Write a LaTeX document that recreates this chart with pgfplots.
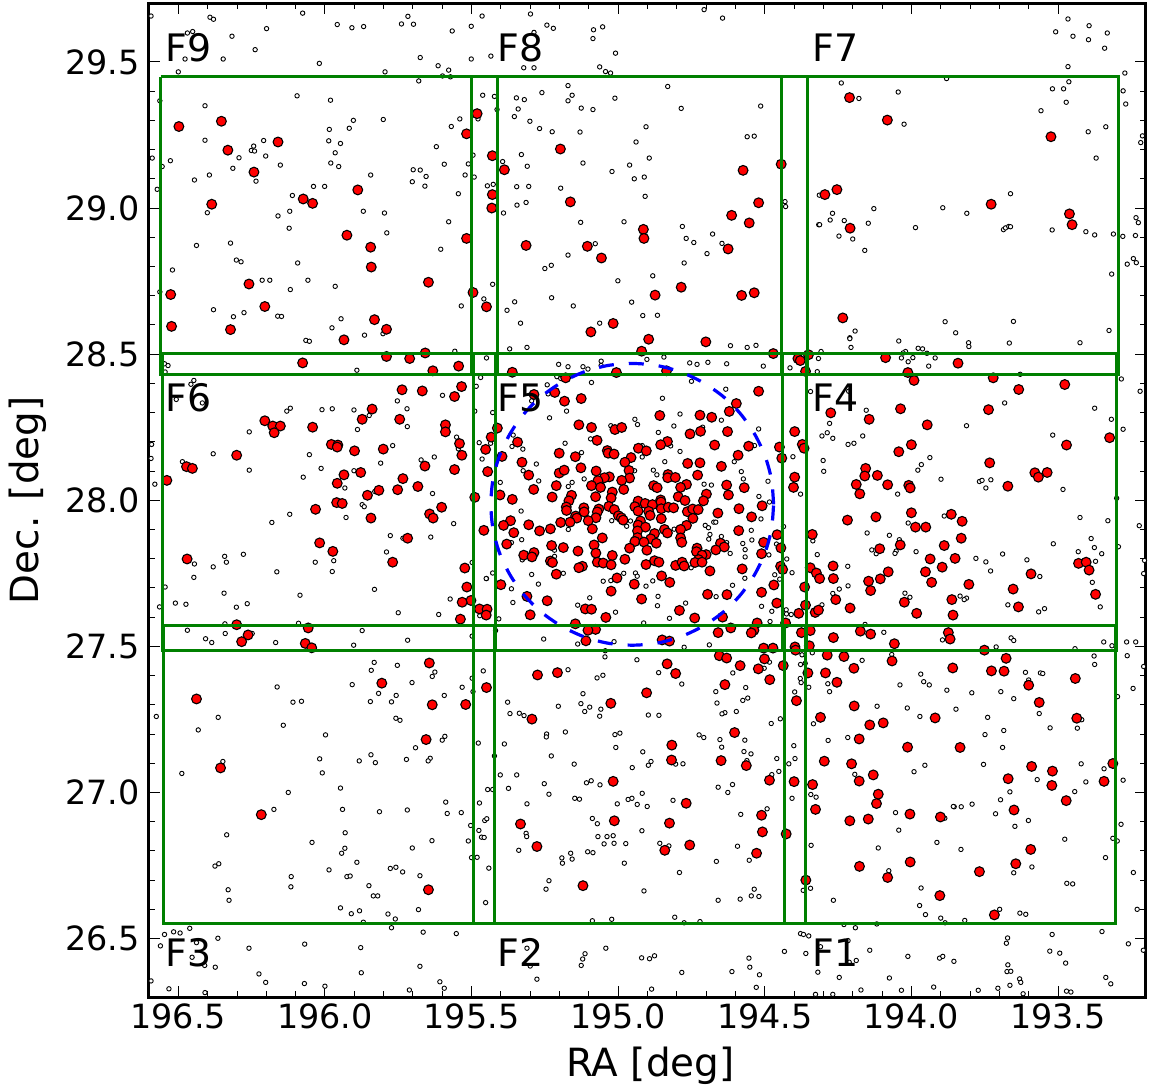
\documentclass[border=0pt]{standalone}
\usepackage{fontspec}
\setmainfont{DejaVu Sans}
\usepackage{pgfplots}
\pgfplotsset{compat=1.18}
\definecolor{fieldgreen}{RGB}{0,128,0}
\begin{document}
\begin{tikzpicture}
\useasboundingbox (-149bp,-93bp) rectangle (1008bp,997bp);
\begin{axis}[
  scale only axis, width=997bp, height=993.5bp,
  x dir=reverse, xmin=193.2, xmax=196.6, ymin=26.3, ymax=29.7,
  xtick={193.5,194,194.5,195,195.5,196,196.5},
  ytick={26.5,27,27.5,28,28.5,29,29.5},
  minor x tick num=4, minor y tick num=4,
  tick align=inside, tick pos=both,
  major tick length=11bp, minor tick length=6bp,
  tick style={black,line width=0.9bp},
  axis line style={line width=3bp,black},
  ticklabel style={font=\fontsize{33.5}{38}\selectfont},
  xticklabel style={/pgf/number format/fixed,/pgf/number format/fixed zerofill,/pgf/number format/precision=1,/pgf/number format/assume math mode=true,yshift=-3bp},
  yticklabel style={/pgf/number format/fixed,/pgf/number format/fixed zerofill,/pgf/number format/precision=1,/pgf/number format/assume math mode=true,xshift=-6bp},
  xlabel={RA [deg]}, ylabel={Dec. [deg]},
  xlabel style={font=\fontsize{39}{44}\selectfont,at={(axis description cs:0.503,-0.050)},anchor=north,inner sep=0pt},
  ylabel style={font=\fontsize{39}{44}\selectfont,at={(axis description cs:-0.1023,0.5)},anchor=south,inner sep=0pt},
  xtick pos=both, ytick pos=both,
  xticklabel pos=bottom, yticklabel pos=left,
  clip mode=individual,
]
% faint members
\addplot[only marks, mark=*, mark size=2.2bp, mark options={fill=white,draw=black,line width=0.9bp}] coordinates {
(196.593,29.657)(196.392,29.653)(196.380,29.646)(196.076,29.667)(196.469,29.599)(196.451,29.604)(196.317,29.588)(196.199,29.614)(195.958,29.628)(195.908,29.617)(195.868,29.621)(195.739,29.630)(195.717,29.656)(195.698,29.629)(195.566,29.606)(195.501,29.622)(195.464,29.657)(196.238,29.542)(196.477,29.510)(196.347,29.510)(196.019,29.495)(195.675,29.515)(195.501,29.510)(195.614,29.487)(195.578,29.472)(196.500,29.466)(195.795,29.466)(195.680,29.435)(195.599,29.452)(195.572,29.449)(196.563,29.367)(196.095,29.384)(195.981,29.369)(195.462,29.386)(196.409,29.350)(195.801,29.303)(195.903,29.300)(195.917,29.273)(195.985,29.269)(195.569,29.279)(195.540,29.305)(195.478,29.305)(196.409,29.232)(196.209,29.231)(195.987,29.230)(195.947,29.221)(196.243,29.212)(196.251,29.197)(196.240,29.195)(195.620,29.210)(195.965,29.189)(196.589,29.171)(196.293,29.172)(196.202,29.178)(196.527,29.162)(195.495,29.181)(196.555,29.142)(196.152,29.147)(195.980,29.154)(195.953,29.142)(195.593,29.150)(195.511,29.151)(196.314,29.136)(195.699,29.131)(195.675,29.130)(196.394,29.113)(195.844,29.113)(195.655,29.108)(195.522,29.113)(195.491,29.106)(196.445,29.096)(196.235,29.092)(195.702,29.090)(196.572,29.064)(196.039,29.074)(196.001,29.074)(195.659,29.075)(196.111,29.043)(195.545,29.049)(196.120,28.989)(195.869,28.989)(196.401,28.984)(195.797,28.983)(196.160,28.973)(195.578,28.953)(196.122,28.931)(195.789,28.915)(196.322,28.880)(196.438,28.872)(195.605,28.859)(196.302,28.822)(196.286,28.816)(196.093,28.812)(196.520,28.788)(196.214,28.753)(196.188,28.753)(196.058,28.753)(195.965,28.732)(196.563,28.713)(196.118,28.721)(196.380,28.652)(196.276,28.642)(196.312,28.628)(196.161,28.630)(196.148,28.629)(195.535,28.665)(195.945,28.621)(195.976,28.590)(195.865,28.565)(195.802,28.570)
(195.299,29.664)(194.707,29.679)(194.644,29.650)(195.243,29.626)(195.221,29.615)(195.084,29.610)(195.053,29.620)(195.287,29.601)(195.086,29.580)(195.009,29.530)(195.434,29.520)(195.322,29.480)(195.287,29.480)(195.063,29.483)(195.043,29.467)(195.026,29.462)(195.171,29.419)(194.831,29.416)(195.260,29.395)(195.157,29.386)(195.422,29.382)(195.347,29.377)(195.320,29.371)(195.171,29.367)(195.011,29.376)(195.413,29.337)(195.341,29.339)(195.126,29.342)(195.086,29.337)(194.785,29.341)(194.514,29.349)(195.354,29.313)(195.301,29.297)(195.268,29.272)(195.225,29.261)(195.130,29.260)(194.905,29.278)(194.560,29.244)(194.536,29.246)(194.939,29.226)(195.330,29.183)(195.394,29.159)(195.310,29.143)(194.894,29.171)(195.120,29.154)(194.961,29.147)(195.021,29.125)(194.945,29.100)(194.911,29.106)(195.446,29.076)(195.426,29.081)(195.346,29.073)(195.305,29.074)(195.196,29.068)(194.908,29.040)(194.431,29.022)(194.429,29.005)(194.314,29.044)(195.314,29.019)(195.345,29.010)(195.391,28.983)(195.128,28.951)(194.980,28.953)(194.781,28.937)(194.316,28.943)(194.678,28.911)(194.768,28.896)(194.742,28.882)(194.646,28.879)(195.078,28.878)(195.171,28.839)(194.697,28.844)(194.775,28.812)(195.228,28.804)(195.250,28.793)(194.882,28.768)(195.001,28.751)(195.428,28.739)(195.458,28.689)(195.353,28.679)(195.227,28.693)(194.954,28.678)(195.153,28.665)(195.379,28.650)(194.916,28.632)(194.866,28.633)(195.333,28.606)(195.063,28.606)
(193.466,29.647)(193.394,29.624)(193.508,29.603)(193.332,29.599)(193.449,29.588)(193.396,29.576)(193.341,29.547)(193.466,29.484)(193.272,29.462)(194.239,29.428)(193.880,29.443)(193.463,29.432)(194.045,29.397)(193.519,29.408)(193.481,29.408)(193.278,29.401)(194.179,29.375)(193.472,29.362)(193.269,29.356)(193.558,29.333)(194.025,29.287)(193.337,29.278)(193.397,29.261)(193.212,29.247)(193.218,29.224)(193.370,29.171)(193.662,29.049)(193.893,29.001)(194.128,28.998)(194.269,28.982)(193.811,28.982)(194.277,28.959)(194.229,28.957)(194.313,28.943)(194.147,28.948)(193.234,28.967)(193.226,28.950)(193.986,28.933)(193.686,28.926)(193.679,28.932)(193.668,28.937)(193.662,28.936)(193.520,28.925)(193.405,28.919)(193.375,28.908)(193.311,28.911)(193.279,28.903)(193.236,28.906)(194.247,28.904)(194.200,28.894)(194.159,28.855)(193.243,28.827)(193.233,28.813)(193.264,28.808)(193.317,28.774)(193.885,28.611)(193.652,28.612)(194.192,28.579)(193.849,28.573)(193.326,28.581)(194.210,28.556)
(196.065,28.547)(196.053,28.544)(195.557,28.510)(195.484,28.390)(195.469,28.420)(195.489,28.305)(195.474,28.197)(195.464,28.141)(195.472,27.605)(195.449,27.732)
(196.547,28.467)(196.535,28.461)(196.545,28.439)(195.891,28.445)(196.447,28.410)(196.457,28.397)(195.599,28.359)(196.507,28.345)(196.418,28.333)(195.753,28.340)(196.118,28.315)(196.130,28.305)(196.010,28.310)(195.975,28.313)(195.901,28.309)(195.720,28.313)(195.849,28.290)(195.719,28.252)(195.889,28.242)(196.258,28.234)(195.551,28.216)(196.591,28.191)(195.769,28.187)(195.545,28.176)(196.381,28.159)(196.053,28.156)(195.627,28.148)(196.593,28.143)(195.672,28.138)(196.486,28.132)(195.810,28.127)(196.013,28.109)(196.258,28.103)(195.901,28.101)(196.074,28.079)(196.580,28.055)(195.932,28.042)(195.686,28.041)(195.830,28.030)(195.633,28.023)(195.873,27.985)(195.866,27.978)(196.120,27.952)(195.928,27.941)(196.181,27.924)(195.561,27.920)(195.777,27.879)(195.734,27.870)(195.639,27.874)(196.278,27.815)(196.342,27.808)(195.790,27.823)(196.336,27.788)(196.445,27.782)(196.381,27.772)(196.033,27.788)(195.970,27.793)(195.498,27.787)(196.164,27.755)(195.975,27.756)(196.447,27.736)(196.545,27.703)(195.831,27.695)(196.344,27.682)(196.085,27.675)(195.573,27.662)(196.510,27.648)(196.474,27.644)(196.265,27.646)(196.564,27.635)(196.302,27.634)(195.750,27.615)(195.612,27.609)(196.341,27.577)(196.090,27.579)(196.469,27.555)(195.873,27.554)(196.340,27.544)(196.248,27.544)(196.407,27.526)(196.386,27.513)(196.168,27.513)(195.718,27.521)(195.902,27.504)(195.498,27.535)
(195.370,28.518)(195.311,28.523)(194.617,28.529)(194.560,28.523)(194.530,28.530)(195.449,28.487)(194.844,28.490)(194.902,28.482)(195.058,28.476)(195.058,28.461)(195.203,28.465)(195.171,28.457)(195.120,28.457)(195.103,28.449)(194.756,28.470)(194.731,28.465)(194.694,28.472)(194.630,28.467)(194.505,28.459)(194.414,28.453)(195.209,28.423)(195.196,28.417)(195.091,28.403)(194.750,28.407)(195.242,28.395)(194.633,28.380)(194.344,28.372)(195.239,28.364)(194.849,28.349)(195.295,28.340)(195.176,28.305)(195.428,28.300)(195.234,28.282)(194.789,28.295)(194.943,28.277)(194.648,28.274)(194.934,28.259)(195.025,28.255)(194.810,28.254)(194.712,28.250)(194.521,28.244)(194.863,28.232)(195.358,28.223)(195.094,28.210)(195.435,28.195)(195.181,28.195)(195.362,28.184)(195.325,28.175)(194.535,28.187)(194.918,28.187)(194.821,28.186)(195.125,28.163)(194.789,28.167)(194.918,28.148)(194.404,28.149)(194.841,28.132)(194.604,28.132)(195.279,28.124)(195.324,28.101)(194.880,28.103)(194.944,28.101)(194.580,28.098)(194.868,28.087)(194.573,28.073)(195.271,28.066)(195.116,28.073)(195.402,28.061)(195.157,28.061)(195.170,28.047)(194.489,28.065)(194.707,28.055)(194.682,28.052)(194.378,28.021)(194.520,28.013)(194.484,27.994)(195.331,27.963)(194.513,27.936)(195.022,27.930)(194.958,27.929)(194.674,27.925)(194.667,27.925)(194.703,27.914)(194.692,27.906)(194.971,27.911)(194.809,27.901)(195.170,27.900)(194.436,27.910)(194.546,27.897)(194.687,27.883)(194.648,27.876)(195.329,27.865)(195.364,27.855)(194.691,27.867)(194.544,27.864)(194.336,27.861)(194.575,27.852)(194.460,27.850)(194.630,27.855)(194.567,27.831)(195.217,27.829)(194.618,27.818)(194.486,27.813)(194.321,27.814)(195.217,27.808)(194.567,27.806)(195.327,27.796)(194.425,27.799)(194.751,27.769)(195.187,27.750)(195.428,27.751)(194.981,27.750)(194.941,27.751)(195.295,27.746)(194.935,27.740)(194.466,27.745)(194.407,27.752)(195.450,27.732)(194.568,27.733)(194.449,27.730)(195.051,27.723)(195.025,27.725)(194.882,27.724)(195.272,27.713)(194.905,27.706)(194.610,27.709)(195.364,27.697)(194.666,27.670)(195.097,27.666)(194.864,27.671)(195.359,27.650)(195.138,27.641)(194.770,27.648)(194.866,27.639)(194.511,27.637)(195.009,27.617)(194.476,27.620)(194.427,27.625)(194.426,27.611)(194.410,27.609)(195.407,27.594)(194.825,27.596)(195.418,27.554)(194.913,27.580)(194.482,27.585)(195.254,27.525)(195.014,27.516)(195.138,27.508)(194.775,27.497)(194.689,27.505)(195.044,27.485)(195.045,27.464)(194.936,27.454)(194.373,27.471)(194.338,27.478)
(194.210,28.553)(194.043,28.545)(193.805,28.539)(193.804,28.526)(193.666,28.538)(193.425,28.539)(194.206,28.523)(193.977,28.520)(193.962,28.518)(194.020,28.509)(194.028,28.504)(193.947,28.503)(194.308,28.509)(194.317,28.485)(194.034,28.487)(193.995,28.488)(194.011,28.474)(193.919,28.487)(193.941,28.459)(194.321,28.440)(193.629,28.431)(193.284,28.415)(193.220,28.373)(194.214,28.373)(193.682,28.333)(193.375,28.315)(194.154,28.308)(193.318,28.277)(194.279,28.263)(193.812,28.255)(193.278,28.243)(194.287,28.231)(194.305,28.220)(194.268,28.212)(194.166,28.220)(193.518,28.223)(194.216,28.191)(194.196,28.195)(193.937,28.146)(194.301,28.136)(193.966,28.122)(193.978,28.103)(194.299,28.099)(193.899,28.072)(193.768,28.064)(193.759,28.068)(193.729,28.070)(193.746,28.042)(193.483,28.037)(194.047,28.021)(193.300,28.007)(193.888,27.946)(193.425,27.941)(193.330,27.930)(194.011,27.922)(193.223,27.913)(194.151,27.888)(194.075,27.880)(193.387,27.869)(194.041,27.865)(193.516,27.851)(193.294,27.841)(194.135,27.830)(194.052,27.826)(193.376,27.838)(194.120,27.817)(194.056,27.818)(193.984,27.824)(193.431,27.824)(193.780,27.801)(193.689,27.816)(193.351,27.817)(193.746,27.789)(193.606,27.796)(193.372,27.791)(193.205,27.794)(194.217,27.774)(193.730,27.758)(193.208,27.749)(193.562,27.739)(194.216,27.707)(193.383,27.719)(194.246,27.696)(194.268,27.681)(194.022,27.682)(194.005,27.668)(193.834,27.672)(193.812,27.665)(193.820,27.660)(194.305,27.642)(193.671,27.642)(193.546,27.629)(193.566,27.618)(193.356,27.635)(194.158,27.575)(194.094,27.548)(193.660,27.529)(193.651,27.520)(193.894,27.522)(193.344,27.515)(193.266,27.515)(193.235,27.515)(193.316,27.502)(193.711,27.498)(193.442,27.492)(194.067,27.472)(193.377,27.467)(193.264,27.468)
(195.832,27.445)(195.753,27.435)(195.842,27.418)(195.625,27.412)(195.634,27.397)(195.460,27.416)(195.498,27.391)(195.907,27.369)(195.703,27.376)(196.163,27.361)(195.532,27.360)(195.495,27.345)(195.817,27.339)(195.757,27.332)(195.593,27.332)(196.109,27.309)(196.080,27.312)(195.845,27.311)(195.773,27.310)(196.575,27.260)(196.364,27.257)(195.758,27.254)(195.744,27.247)(196.142,27.230)(196.432,27.214)(195.998,27.197)(195.591,27.192)(195.600,27.179)(195.477,27.169)(195.691,27.153)(195.843,27.129)(195.641,27.117)(196.018,27.115)(195.648,27.108)(196.348,27.106)(195.883,27.108)(195.828,27.102)(195.722,27.113)(196.488,27.065)(196.009,27.067)(195.947,27.015)(196.125,27.000)(195.445,27.010)(195.588,26.967)(195.473,26.964)(196.174,26.942)(195.940,26.942)(195.814,26.934)(195.719,26.940)(195.583,26.928)(195.535,26.931)(195.455,26.904)(195.448,26.910)(195.503,26.887)(195.475,26.870)(196.335,26.855)(195.931,26.862)(195.466,26.847)(195.457,26.846)(196.044,26.829)(195.635,26.835)(195.511,26.834)(195.932,26.809)(195.702,26.810)(195.943,26.792)(195.500,26.777)(195.481,26.778)(196.362,26.756)(196.375,26.748)(195.891,26.761)(195.777,26.740)(195.758,26.744)(195.986,26.735)(195.735,26.728)(195.676,26.715)(195.925,26.712)(195.914,26.714)(196.115,26.712)(196.116,26.677)(195.850,26.681)(196.330,26.667)(195.835,26.646)(195.820,26.646)(196.327,26.631)(195.452,26.623)(195.947,26.605)(195.882,26.595)(195.681,26.599)(195.910,26.585)(195.785,26.584)(195.760,26.567)(195.869,26.556)(196.461,26.535)(195.773,26.537)(196.516,26.523)(196.494,26.519)(196.547,26.514)(195.665,26.522)(195.552,26.517)(196.365,26.501)(196.438,26.486)(196.069,26.481)(196.561,26.475)(195.878,26.469)(196.259,26.467)(196.453,26.436)(196.410,26.408)(196.374,26.402)(195.676,26.405)(196.225,26.379)(195.876,26.383)(196.593,26.355)(196.202,26.350)(196.070,26.346)(195.608,26.352)(196.000,26.337)(196.532,26.328)(195.712,26.324)(195.593,26.330)(196.409,26.315)
(195.171,27.420)(195.052,27.401)(195.072,27.392)(194.862,27.410)(194.609,27.409)(194.502,27.425)(194.484,27.446)(194.378,27.438)(194.362,27.442)(194.379,27.390)(194.376,27.376)(194.783,27.371)(194.350,27.360)(194.565,27.359)(194.667,27.345)(194.398,27.344)(195.120,27.338)(194.558,27.323)(194.575,27.315)(195.377,27.309)(195.127,27.304)(194.663,27.306)(195.204,27.295)(195.097,27.292)(195.059,27.285)(195.114,27.277)(194.597,27.277)(194.636,27.273)(194.646,27.269)(195.369,27.270)(195.337,27.271)(195.321,27.263)(195.063,27.261)(194.897,27.265)(194.861,27.264)(194.447,27.252)(194.478,27.236)(194.334,27.235)(195.180,27.207)(195.244,27.200)(195.245,27.190)(195.011,27.198)(194.994,27.203)(194.724,27.197)(194.708,27.188)(194.653,27.181)(194.568,27.179)(195.388,27.166)(195.008,27.154)(194.647,27.155)(194.401,27.160)(194.916,27.139)(194.571,27.140)(194.547,27.132)(195.228,27.125)(195.422,27.125)(194.459,27.116)(194.397,27.116)(194.888,27.106)(194.897,27.093)(194.561,27.109)(195.150,27.097)(194.804,27.097)(194.779,27.098)(194.418,27.098)(194.952,27.085)(194.452,27.072)(195.402,27.060)(195.346,27.060)(194.476,27.061)(195.092,27.040)(195.108,27.033)(195.252,27.030)(195.062,27.026)(194.610,27.027)(194.659,27.018)(195.374,27.014)(195.428,27.010)(194.626,27.000)(195.236,26.994)(194.918,26.997)(194.343,26.993)(194.325,26.984)(195.148,26.980)(195.132,26.977)(194.966,26.976)(194.953,26.980)(194.407,26.980)(194.813,26.973)(195.311,26.961)(195.003,26.961)(194.935,26.959)(194.901,26.952)(194.492,26.944)(194.582,26.925)(195.088,26.911)(195.071,26.893)(194.919,26.869)(195.314,26.860)(195.312,26.849)(195.069,26.849)(195.038,26.849)(195.017,26.852)(194.858,26.826)(194.827,26.817)(195.048,26.824)(195.014,26.826)(194.974,26.825)(194.593,26.816)(194.342,26.819)(195.339,26.802)(195.104,26.797)(195.086,26.794)(195.162,26.792)(195.192,26.776)(195.157,26.772)(195.190,26.758)(194.665,26.764)(194.553,26.768)(194.979,26.758)(195.441,26.741)(194.791,26.726)(195.236,26.698)(195.246,26.669)(194.536,26.669)(194.912,26.663)(194.344,26.672)(194.369,26.665)(194.546,26.646)(194.520,26.644)(194.659,26.631)(194.584,26.635)(194.807,26.573)(195.022,26.566)(195.088,26.561)(194.721,26.558)(194.775,26.554)(194.378,26.517)(194.368,26.514)(194.350,26.509)(195.311,26.467)(195.042,26.467)(195.113,26.448)(195.121,26.430)(195.126,26.408)(194.433,26.456)(194.920,26.434)(194.893,26.431)(194.876,26.441)(194.360,26.449)(194.554,26.433)(195.300,26.406)(194.551,26.402)(194.612,26.387)(194.783,26.384)(194.518,26.376)(194.319,26.385)(195.277,26.361)(194.529,26.333)(194.886,26.327)(194.327,26.309)
(194.168,27.452)(193.375,27.438)(193.968,27.405)(193.611,27.411)(193.560,27.409)(193.552,27.407)(193.208,27.431)(193.958,27.379)(193.939,27.368)(194.039,27.368)(194.285,27.372)(193.600,27.385)(194.279,27.345)(193.879,27.350)(193.794,27.341)(193.695,27.345)(193.244,27.356)(193.651,27.321)(193.297,27.328)(194.117,27.295)(194.014,27.289)(193.848,27.285)(193.564,27.270)(193.971,27.260)(193.740,27.257)(193.419,27.249)(193.527,27.221)(193.434,27.220)(193.685,27.212)(193.749,27.198)(194.217,27.188)(194.284,27.178)(193.689,27.154)(193.954,27.093)(193.754,27.096)(193.421,27.098)(193.343,27.081)(193.991,27.071)(194.193,27.062)(193.571,27.044)(193.405,27.036)(193.278,27.042)(193.443,27.003)(193.664,27.002)(193.696,26.975)(193.793,26.960)(193.854,26.951)(193.857,26.952)(193.830,26.951)(194.054,26.931)(193.713,26.927)(193.886,26.912)(193.601,26.904)(193.285,26.891)(193.647,26.884)(194.043,26.871)(193.477,26.840)(193.313,26.843)(193.298,26.834)(193.913,26.829)(193.831,26.805)(194.113,26.810)(193.338,26.777)(193.589,26.745)(194.077,26.732)(193.651,26.725)(193.243,26.726)(193.470,26.689)(193.450,26.687)(193.967,26.673)(194.266,26.631)(193.972,26.613)(193.699,26.600)(193.952,26.582)(193.630,26.587)(193.610,26.583)(193.230,26.600)(193.900,26.570)(193.818,26.562)(193.885,26.554)(194.230,26.548)(194.191,26.537)(194.118,26.550)(193.350,26.524)(193.520,26.514)(193.672,26.502)(193.676,26.484)(194.216,26.493)(194.310,26.472)(193.260,26.482)(194.142,26.460)(193.528,26.457)(193.494,26.450)(193.209,26.460)(194.012,26.439)(193.904,26.433)(193.893,26.439)(194.188,26.425)(194.212,26.419)(193.855,26.422)(193.474,26.416)(193.671,26.410)(193.674,26.387)(193.661,26.388)(194.246,26.367)(194.075,26.365)(193.631,26.362)(193.627,26.350)(193.337,26.367)(193.320,26.345)(193.664,26.340)(193.924,26.334)(193.705,26.330)(194.172,26.324)(194.034,26.323)(193.772,26.323)(193.471,26.320)(193.456,26.317)(194.268,26.309)(193.619,26.311)
};
% bright members
\addplot[only marks, mark=*, mark size=4.9bp, mark options={fill=red,draw=black,line width=1.1bp}] coordinates {
(196.498,29.279)(196.353,29.297)(196.160,29.226)(196.331,29.198)(196.242,29.123)(195.888,29.062)(196.074,29.031)(196.042,29.016)(196.386,29.013)(195.925,28.907)(195.844,28.866)(195.842,28.798)(195.517,29.254)(195.481,29.323)(195.517,28.896)(195.647,28.746)(196.259,28.740)(195.495,28.711)(196.526,28.704)(196.205,28.663)(196.523,28.595)(196.322,28.584)(195.831,28.618)(195.790,28.585)(195.935,28.549)
(195.429,29.179)(195.388,29.131)(195.429,29.046)(195.431,29.000)(195.197,29.202)(195.163,29.021)(194.574,29.129)(194.444,29.150)(194.521,29.018)(194.613,28.975)(194.553,28.949)(194.914,28.927)(194.912,28.896)(194.625,28.860)(195.314,28.872)(195.105,28.869)(195.057,28.829)(194.785,28.729)(194.874,28.702)(194.579,28.701)(194.536,28.710)(195.449,28.662)(195.017,28.605)(195.093,28.576)(194.896,28.551)(194.701,28.542)
(194.211,29.378)(194.082,29.301)(193.524,29.244)(194.254,29.063)(194.295,29.046)(193.728,29.013)(193.461,28.980)(193.452,28.943)(194.209,28.931)(194.234,28.624)
(196.076,28.470)(195.790,28.492)(195.711,28.485)(195.658,28.504)(195.632,28.443)(195.544,28.459)(195.534,28.389)(195.558,28.355)(195.737,28.378)(195.668,28.374)(195.839,28.312)(195.873,28.277)(195.745,28.277)(196.205,28.272)(196.178,28.254)(196.152,28.254)(196.173,28.231)(196.042,28.250)(195.589,28.258)(195.589,28.234)(195.978,28.191)(195.956,28.189)(195.958,28.182)(195.899,28.169)(195.801,28.175)(195.541,28.194)(195.533,28.154)(196.301,28.154)(196.472,28.115)(196.452,28.109)(195.659,28.117)(195.558,28.105)(195.878,28.095)(195.935,28.087)(196.539,28.068)(195.734,28.074)(195.958,28.058)(195.683,28.047)(195.816,28.034)(195.752,28.036)(195.855,28.017)(195.489,28.010)(195.960,27.992)(195.941,27.989)(196.032,27.969)(195.602,27.976)(195.643,27.953)(195.631,27.939)(195.843,27.939)(195.718,27.870)(196.018,27.854)(195.973,27.825)(196.470,27.799)(195.769,27.788)(195.523,27.768)(195.516,27.703)(195.502,27.657)(195.532,27.651)(195.473,27.628)(195.447,27.627)(195.450,27.607)(195.538,27.593)(196.301,27.574)(196.057,27.563)(196.262,27.539)(196.284,27.516)(196.067,27.510)(196.045,27.495)
(195.361,28.438)(195.006,28.437)(194.835,28.443)(194.920,28.510)(194.471,28.502)(194.387,28.485)(194.379,28.478)(194.351,28.498)(194.361,28.441)(195.179,28.419)(195.216,28.369)(195.287,28.362)(195.183,28.339)(195.126,28.348)(194.521,28.373)(194.597,28.331)(194.621,28.304)(194.858,28.290)(194.721,28.291)(194.681,28.284)(195.134,28.258)(195.091,28.249)(195.011,28.242)(194.988,28.249)(195.412,28.247)(194.755,28.227)(194.719,28.236)(194.627,28.235)(194.398,28.235)(195.433,28.216)(195.072,28.205)(195.343,28.199)(194.832,28.201)(194.855,28.190)(194.671,28.189)(195.452,28.174)(194.931,28.178)(194.904,28.169)(194.555,28.185)(194.450,28.182)(194.372,28.191)(194.366,28.178)(195.396,28.150)(195.201,28.161)(195.146,28.149)(195.037,28.170)(195.034,28.161)(195.014,28.158)(194.956,28.146)(194.977,28.130)(194.591,28.154)(194.442,28.144)(195.328,28.130)(194.763,28.126)(194.721,28.128)(194.648,28.116)(195.127,28.111)(195.445,28.098)(195.305,28.086)(195.201,28.093)(195.184,28.103)(195.075,28.100)(194.963,28.102)(194.729,28.086)(194.961,28.076)(195.030,28.080)(195.047,28.077)(195.069,28.067)(194.988,28.068)(194.830,28.088)(194.831,28.077)(194.805,28.078)(194.398,28.079)(195.091,28.050)(195.060,28.044)(195.211,28.050)(194.767,28.054)(194.787,28.044)(194.630,28.052)(194.570,28.043)(194.402,28.044)(194.879,28.050)(194.867,28.043)(195.288,28.037)(194.981,28.037)(195.020,28.028)(195.403,28.018)(195.159,28.017)(195.077,28.012)(194.699,28.021)(194.624,28.018)(195.225,28.011)(195.361,28.003)(194.795,28.012)(195.024,28.008)(195.168,27.998)(194.772,27.999)(194.709,27.998)(194.932,27.997)(194.855,28.001)(194.509,27.981)(195.117,27.974)(194.588,27.971)(195.177,27.977)(195.176,27.965)(195.066,27.970)(195.032,27.979)(195.013,27.968)(194.943,27.978)(194.908,27.989)(194.883,27.985)(194.854,27.994)(194.932,27.963)(194.896,27.962)(194.853,27.971)(194.829,27.976)(194.811,27.974)(194.764,27.961)(194.746,27.970)(194.727,27.968)(195.116,27.960)(195.071,27.960)(194.660,27.956)(194.891,27.948)(195.145,27.946)(195.141,27.939)(195.076,27.940)(194.999,27.947)(194.989,27.940)(194.983,27.932)(194.853,27.937)(194.745,27.938)(194.545,27.943)(195.196,27.924)(195.164,27.925)(195.102,27.930)(195.305,27.916)(195.367,27.930)(195.391,27.914)(194.924,27.929)(194.932,27.915)(194.907,27.908)(194.767,27.914)(195.458,27.897)(195.356,27.889)(195.268,27.895)(195.231,27.902)(195.088,27.902)(194.842,27.900)(194.832,27.888)(194.787,27.900)(194.934,27.895)(194.589,27.896)(194.458,27.882)(194.338,27.883)(194.934,27.872)(195.054,27.871)(194.876,27.886)(194.787,27.871)(194.889,27.868)(194.943,27.859)(194.912,27.857)(194.870,27.853)(194.783,27.856)(195.380,27.850)(195.082,27.847)(195.227,27.845)(194.651,27.853)(194.638,27.840)(194.504,27.856)(195.187,27.838)(194.961,27.836)(194.731,27.836)(194.667,27.830)(194.445,27.837)(195.137,27.826)(194.902,27.829)(194.733,27.824)(195.287,27.821)(195.076,27.819)(194.511,27.817)(195.322,27.812)(195.294,27.806)(195.020,27.811)(194.700,27.814)(194.714,27.812)(194.977,27.798)(194.726,27.797)(195.231,27.792)(195.224,27.787)(195.071,27.788)(195.051,27.785)(195.024,27.779)(194.876,27.793)(194.861,27.788)(194.738,27.787)(194.714,27.788)(194.905,27.780)(194.804,27.777)(194.782,27.788)(194.775,27.775)(195.122,27.774)(195.134,27.769)(194.446,27.774)(194.439,27.763)(194.345,27.769)(194.324,27.751)(194.577,27.765)(194.687,27.758)(195.211,27.747)(194.852,27.741)(195.004,27.734)(194.824,27.719)(194.945,27.713)(195.400,27.711)(194.469,27.710)(194.364,27.703)(194.313,27.732)(195.024,27.689)(194.695,27.678)(194.629,27.677)(194.511,27.685)(195.311,27.671)(194.920,27.662)(195.242,27.656)(194.459,27.648)(194.361,27.641)(195.112,27.628)(195.091,27.627)(194.791,27.623)(195.300,27.608)(195.042,27.599)(194.739,27.597)(194.644,27.600)(194.384,27.613)(194.328,27.616)(195.146,27.577)(194.526,27.580)(194.429,27.580)(195.077,27.558)(195.103,27.555)(194.616,27.563)(194.537,27.555)(194.546,27.546)(194.659,27.547)(194.375,27.547)(194.345,27.554)(195.110,27.519)(194.850,27.522)(194.825,27.518)(194.504,27.494)(194.472,27.494)(194.397,27.498)(194.395,27.487)(194.348,27.502)(194.655,27.468)(194.630,27.460)(194.501,27.457)
(194.088,28.488)(193.841,28.469)(194.012,28.437)(193.991,28.410)(193.721,28.419)(193.634,28.379)(193.477,28.396)(194.275,28.299)(194.037,28.313)(193.737,28.310)(194.144,28.277)(193.946,28.258)(193.324,28.214)(193.471,28.189)(194.000,28.190)(194.043,28.166)(193.733,28.128)(194.156,28.109)(194.159,28.083)(194.116,28.085)(193.579,28.094)(193.567,28.079)(193.537,28.095)(194.188,28.054)(194.081,28.053)(194.009,28.051)(194.004,28.042)(193.671,28.048)(194.176,28.022)(194.000,27.957)(193.864,27.952)(194.218,27.932)(194.121,27.943)(193.827,27.928)(193.986,27.908)(193.951,27.908)(193.830,27.870)(194.038,27.847)(194.108,27.834)(193.888,27.845)(193.936,27.799)(193.851,27.801)(194.267,27.775)(193.895,27.771)(193.430,27.784)(193.404,27.788)(193.394,27.761)(194.079,27.755)(193.952,27.755)(193.592,27.748)(194.266,27.732)(194.106,27.731)(194.146,27.723)(193.931,27.719)(193.804,27.712)(194.139,27.691)(193.653,27.696)(193.372,27.678)(194.258,27.660)(194.024,27.651)(193.862,27.660)(194.209,27.631)(193.635,27.635)(194.317,27.624)(193.982,27.613)(193.858,27.607)(194.174,27.552)(194.139,27.542)(194.266,27.530)(193.874,27.547)(193.868,27.525)(194.058,27.509)(193.751,27.487)(194.287,27.470)(194.230,27.465)(193.677,27.459)
(195.644,27.443)(195.806,27.374)(196.438,27.320)(195.634,27.300)(195.520,27.301)(195.655,27.181)(196.356,27.084)(196.217,26.924)(195.647,26.667)
(195.449,27.359)(195.275,27.402)(195.207,27.410)(194.833,27.440)(194.804,27.407)(194.584,27.434)(194.522,27.423)(194.437,27.434)(194.353,27.409)(194.483,27.386)(194.636,27.369)(194.903,27.341)(195.025,27.305)(194.392,27.314)(194.310,27.257)(195.294,27.251)(194.603,27.205)(194.817,27.162)(194.818,27.111)(194.649,27.109)(194.563,27.092)(195.017,27.038)(194.484,27.042)(194.400,27.037)(194.337,27.027)(194.768,26.963)(194.511,26.922)(194.327,26.942)(195.333,26.892)(195.013,26.903)(194.825,26.895)(194.508,26.865)(194.427,26.858)(195.277,26.815)(194.756,26.820)(194.841,26.802)(194.528,26.792)(194.360,26.700)(195.120,26.681)
(194.293,27.409)(194.254,27.377)(194.196,27.425)(194.066,27.450)(193.859,27.426)(193.727,27.416)(193.684,27.415)(193.441,27.390)(193.600,27.367)(194.195,27.296)(193.564,27.308)(194.142,27.231)(194.096,27.238)(193.919,27.255)(193.436,27.254)(194.178,27.183)(194.013,27.155)(193.834,27.154)(194.297,27.107)(194.204,27.098)(193.313,27.099)(193.590,27.089)(193.519,27.073)(194.130,27.060)(194.178,27.039)(193.670,27.047)(193.343,27.038)(193.521,27.024)(194.113,26.994)(194.119,26.962)(193.472,26.972)(194.005,26.926)(193.650,26.940)(194.147,26.909)(194.210,26.903)(193.901,26.916)(193.593,26.805)(194.004,26.762)(194.177,26.747)(193.644,26.756)(193.768,26.729)(194.081,26.709)(193.903,26.647)(193.717,26.581)
};
% pointings
\addplot[fieldgreen,line width=3bp] coordinates {(196.56,29.45)(195.412,29.45)(195.412,28.432)(196.56,28.432)(196.56,29.45)};
\addplot[fieldgreen,line width=3bp] coordinates {(195.50,29.45)(194.353,29.45)(194.353,28.432)(195.50,28.432)(195.50,29.45)};
\addplot[fieldgreen,line width=3bp] coordinates {(194.444,29.45)(193.295,29.45)(193.295,28.432)(194.444,28.432)(194.444,29.45)};
\addplot[fieldgreen,line width=3bp] coordinates {(196.555,28.503)(195.418,28.503)(195.418,27.485)(196.555,27.485)(196.555,28.503)};
\addplot[fieldgreen,line width=3bp] coordinates {(195.495,28.503)(194.358,28.503)(194.358,27.485)(195.495,27.485)(195.495,28.503)};
\addplot[fieldgreen,line width=3bp] coordinates {(194.438,28.503)(193.300,28.503)(193.300,27.485)(194.438,27.485)(194.438,28.503)};
\addplot[fieldgreen,line width=3bp] coordinates {(196.55,27.570)(195.422,27.570)(195.422,26.552)(196.55,26.552)(196.55,27.570)};
\addplot[fieldgreen,line width=3bp] coordinates {(195.492,27.570)(194.362,27.570)(194.362,26.552)(195.492,26.552)(195.492,27.570)};
\addplot[fieldgreen,line width=3bp] coordinates {(194.433,27.570)(193.303,27.570)(193.303,26.552)(194.433,26.552)(194.433,27.570)};
% core region
\addplot[blue,line width=3.2bp,dash pattern=on 15bp off 15bp,smooth] coordinates {
(194.470,27.986)(194.477,28.070)(194.499,28.151)(194.535,28.227)(194.583,28.296)(194.642,28.355)(194.711,28.403)(194.787,28.439)(194.868,28.461)(194.952,28.468)(195.036,28.461)(195.117,28.439)(195.193,28.403)(195.262,28.355)(195.321,28.296)(195.369,28.227)(195.405,28.151)(195.427,28.070)(195.434,27.986)(195.427,27.902)(195.405,27.821)(195.369,27.745)(195.321,27.676)(195.262,27.617)(195.193,27.569)(195.117,27.533)(195.036,27.511)(194.952,27.504)(194.868,27.511)(194.787,27.533)(194.711,27.569)(194.642,27.617)(194.583,27.676)(194.535,27.745)(194.499,27.821)(194.477,27.902)(194.470,27.986)};
\foreach \n/\x/\y in {F9/196.543/29.5,F8/195.412/29.5,F7/194.338/29.5,F6/196.543/28.305,F5/195.412/28.305,F4/194.338/28.305,F3/196.543/26.406,F2/195.412/26.406,F1/194.338/26.406}{
  \edef\tmp{\noexpand\node[anchor=base west,inner sep=0pt,font=\noexpand\fontsize{38}{42}\noexpand\selectfont] at (axis cs:\x,\y) {\n};}
  \tmp
}
\end{axis}
\end{tikzpicture}
\end{document}
